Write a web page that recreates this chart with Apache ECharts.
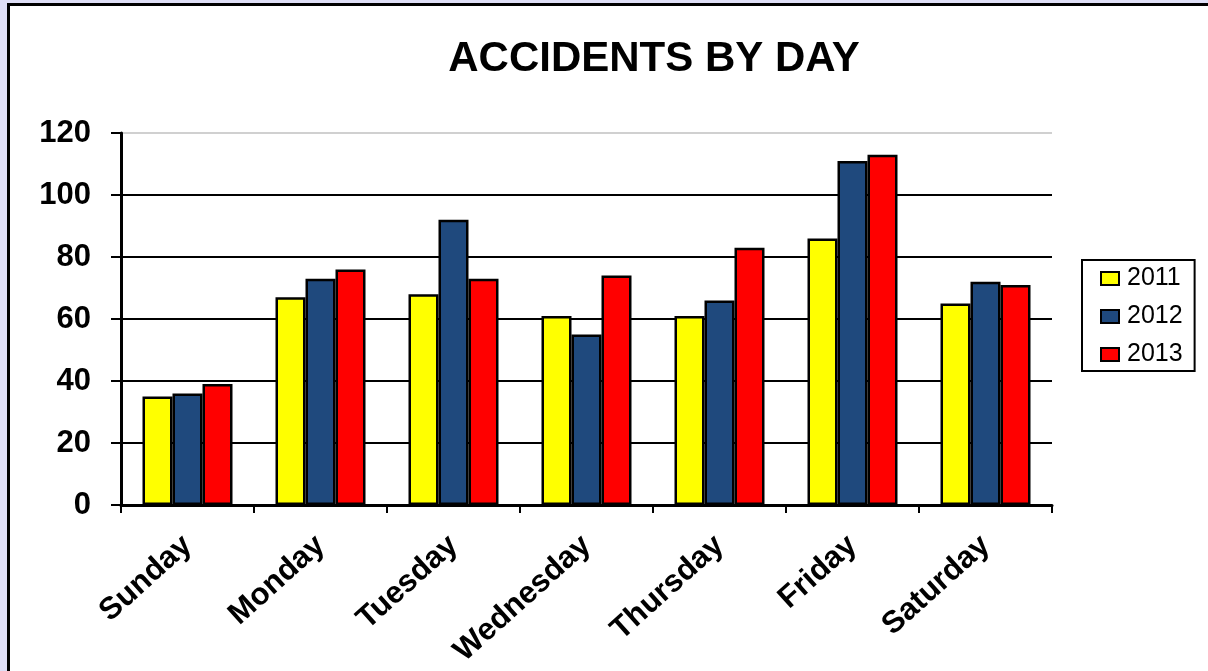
<!DOCTYPE html>
<html>
<head>
<meta charset="utf-8">
<script src="https://cdn.jsdelivr.net/npm/echarts@6/dist/echarts.min.js"></script>
<style>
  html, body { margin: 0; padding: 0; width: 1208px; height: 671px; overflow: hidden; background: #dedef6; }
  #frame { position: absolute; left: 7px; top: 3px; width: 1220px; height: 700px; background: #fff; border: 3px solid #000; box-sizing: border-box; }
  #chart { position: absolute; left: 0; top: 0; width: 1208px; height: 671px; }
</style>
</head>
<body>
<div id="frame"></div>
<div id="chart"></div>
<script>
const categories = ['Sunday', 'Monday', 'Tuesday', 'Wednesday', 'Thursday', 'Friday', 'Saturday'];
const years = ['2011', '2012', '2013'];
const values2011 = [35, 67, 68, 61, 61, 86, 65];
const values2012 = [36, 73, 92, 55, 66, 111, 72];
const values2013 = [39, 76, 73, 74, 83, 113, 71];
const yTicks = [0, 20, 40, 60, 80, 100, 120];

const colors = ['#FFFF00', '#1F497D', '#FF0000'];
const seriesData = [values2011, values2012, values2013];
const FONT = '"Liberation Sans", Arial, sans-serif';

const chart = echarts.init(document.getElementById('chart'), null, { renderer: 'canvas' });
chart.setOption({
  backgroundColor: 'transparent',
  animation: false,
  title: {
    text: 'ACCIDENTS BY DAY',
    left: 649, textAlign: 'center',
    top: 33,
    textStyle: { fontFamily: FONT, fontWeight: 'bold', fontSize: 42, color: '#000' }
  },
  legend: {
    orient: 'vertical',
    left: 1082, top: 260,
    data: years,
    icon: 'rect',
    itemWidth: 18, itemHeight: 13,
    itemGap: 13,
    padding: [6, 12, 4, 18],
    borderColor: '#000', borderWidth: 2,
    backgroundColor: '#fff',
    textStyle: { fontFamily: FONT, fontSize: 25, color: '#000', padding: [0, 0, 0, 3] }
  },
  grid: { left: 121, top: 133, width: 931, height: 372, containLabel: false },
  xAxis: {
    type: 'category',
    data: categories,
    boundaryGap: true,
    axisLine: { lineStyle: { color: '#000', width: 3 } },
    axisTick: { show: true, alignWithLabel: false, length: 8, lineStyle: { color: '#000', width: 2 } },
    axisLabel: {
      rotate: 42, margin: 36, interval: 0,
      fontFamily: FONT, fontWeight: 'bold', fontSize: 31, color: '#000'
    }
  },
  yAxis: {
    type: 'value',
    min: yTicks[0], max: yTicks[yTicks.length - 1], interval: 20,
    axisLine: { show: true, lineStyle: { color: '#000', width: 3 } },
    axisTick: { show: true, inside: false, length: 10, lineStyle: { color: '#000', width: 2 } },
    axisLabel: { margin: 30, fontFamily: FONT, fontWeight: 'bold', fontSize: 31, color: '#000' },
    splitLine: { show: true, lineStyle: { color: ['#000', '#000', '#000', '#000', '#000', '#000', '#d0d0d0'], width: 2 } }
  },
  series: years.map((y, i) => ({
    name: y,
    type: 'bar',
    data: seriesData[i],
    barWidth: 30,
    barGap: '0%',
    itemStyle: { color: colors[i], borderColor: '#000', borderWidth: 2.5 }
  }))
});
</script>
</body>
</html>
